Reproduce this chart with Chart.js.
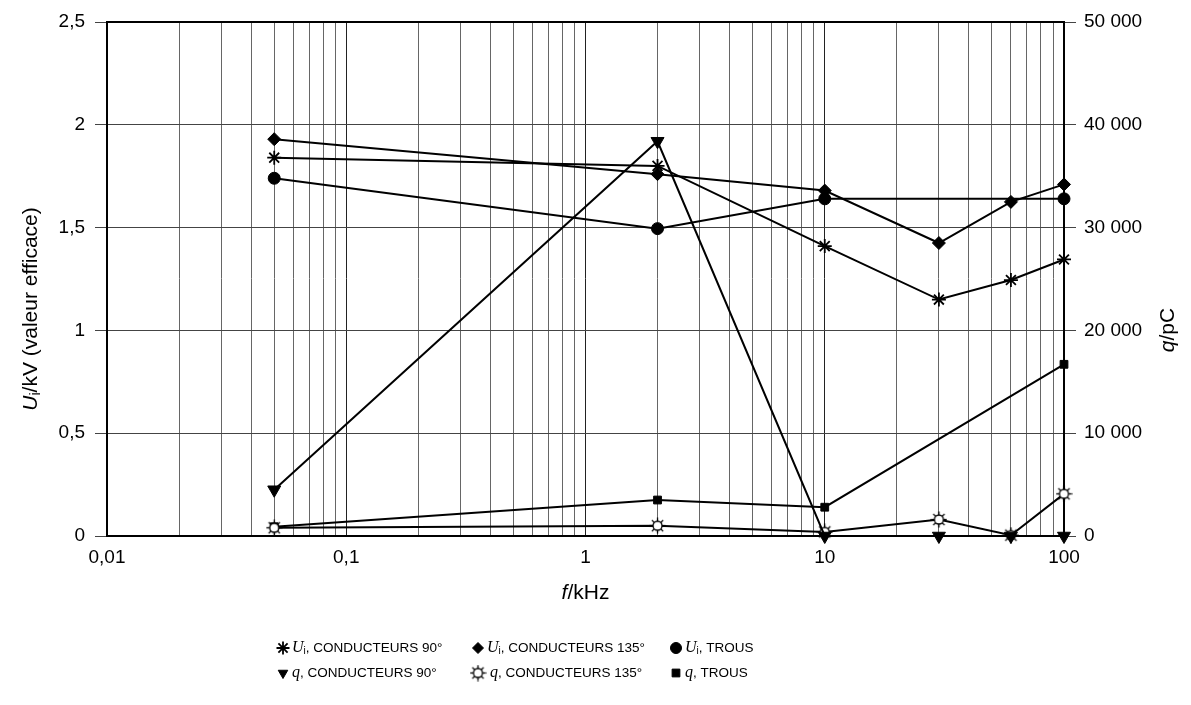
<!DOCTYPE html>
<html>
<head>
<meta charset="utf-8">
<script src="https://cdn.jsdelivr.net/npm/chart.js@4.4.1/dist/chart.umd.min.js"></script>
<style>
  body { margin: 0; background: #fff; }
  #wrap { width: 1191px; height: 705px; }
</style>
</head>
<body>
<div id="wrap"><canvas id="chart" width="1191" height="705"></canvas></div>
<script>
// frequencies (kHz) measured
const freqs = [0.05, 2, 10, 30, 60, 100];

// Ui in kV (left axis)
const uCond90  = [1.84, 1.80, 1.41, 1.15, 1.245, 1.345];
const uCond135 = [1.93, 1.76, 1.68, 1.425, 1.625, 1.71];
const uTrous   = [1.74, 1.495, 1.64, null, null, 1.64];

// q in pC (right axis)
const qCond90  = [4500, 38400, 0, 0, 0, 0];
const qCond135 = [800, 1000, 400, 1600, 80, 4100];
const qTrous   = [900, 3500, 2800, null, null, 16700];

const xDecades = [0.01, 0.1, 1, 10, 100];
const xDecadeLabels = ['0,01', '0,1', '1', '10', '100'];
const uTickLabels = ['0', '0,5', '1', '1,5', '2', '2,5'];
const qTickLabels = ['0', '10 000', '20 000', '30 000', '40 000', '50 000'];

const legendSymbols = ['U', 'U', 'U', 'q', 'q', 'q'];
const legendTexts = [', CONDUCTEURS 90°', ', CONDUCTEURS 135°', ', TROUS',
                     ', CONDUCTEURS 90°', ', CONDUCTEURS 135°', ', TROUS'];

const SANS = "'Liberation Sans', Arial, sans-serif";
const SERIF = "'Liberation Serif', 'Times New Roman', serif";

// open circle with little rays for q, conducteurs 135°
function makeSun(size) {
    const c = document.createElement('canvas');
    c.width = size; c.height = size;
    const g = c.getContext('2d');
    const m = size / 2;
    g.strokeStyle = '#000';
    g.lineWidth = 1.3;
    for (let k = 0; k < 8; k++) {
        const a = k * Math.PI / 4;
        g.beginPath();
        g.moveTo(m + Math.cos(a) * 4, m + Math.sin(a) * 4);
        g.lineTo(m + Math.cos(a) * (m - 0.5), m + Math.sin(a) * (m - 0.5));
        g.stroke();
    }
    g.beginPath();
    g.arc(m, m, 4.5, 0, Math.PI * 2);
    g.fillStyle = '#fff';
    g.fill();
    g.stroke();
    return c;
}
const sun = makeSun(17);

function pts(values) {
    return freqs.map((f, i) => ({ x: f, y: values[i] }));
}

function series(values, axis, style, radius, extra) {
    return Object.assign({
        data: pts(values),
        yAxisID: axis,
        borderColor: '#000',
        backgroundColor: '#000',
        borderWidth: 2,
        pointStyle: style,
        pointRadius: radius,
        pointBorderWidth: 1,
        pointHoverRadius: radius,
        spanGaps: true,
        clip: false,
        tension: 0
    }, extra || {});
}

const datasets = [
    series(uCond90, 'yu', 'star', 7, { pointBorderWidth: 1.8 }),
    series(uCond135, 'yu', 'rectRot', 6.5),
    series(uTrous, 'yu', 'circle', 6),
    series(qCond90, 'yq', 'triangle', 7.5, { pointRotation: 180 }),
    series(qCond135, 'yq', sun, 7),
    series(qTrous, 'yq', 'rect', 5.5)
];

// ticks at 1..9 x 10^n for the log grid
function logTicks() {
    const t = [];
    for (let e = -2; e < 2; e++) {
        for (let m = 1; m < 10; m++) t.push({ value: +(m * Math.pow(10, e)).toPrecision(3) });
    }
    t.push({ value: 100 });
    return t;
}

function isDecade(v) {
    return xDecades.some(d => Math.abs(d - v) < 1e-9);
}

const decorPlugin = {
    id: 'decor',
    beforeDatasetsDraw(chart) {
        const a = chart.chartArea;
        const ctx = chart.ctx;
        ctx.save();
        ctx.strokeStyle = '#000';
        ctx.lineWidth = 2;
        ctx.strokeRect(a.left, a.top, a.right - a.left, a.bottom - a.top);
        ctx.restore();
    },
    afterDraw(chart) {
        const ctx = chart.ctx;
        const a = chart.chartArea;
        ctx.save();
        ctx.fillStyle = '#000';
        ctx.textBaseline = 'middle';

        // left title
        ctx.save();
        ctx.translate(31, 309);
        ctx.rotate(-Math.PI / 2);
        drawMixed(ctx, [
            ['U', 'italic 21px ' + SANS, 0],
            ['i', '14px ' + SANS, 5],
            ['/kV (valeur efficace)', '21px ' + SANS, 0]
        ], 0, 0, 'center');
        ctx.restore();

        // right title
        ctx.save();
        ctx.translate(1168, 330);
        ctx.rotate(-Math.PI / 2);
        drawMixed(ctx, [
            ['q', 'italic 21px ' + SANS, 0],
            ['/pC', '21px ' + SANS, 0]
        ], 0, 0, 'center');
        ctx.restore();

        // x title
        drawMixed(ctx, [
            ['f', 'italic 21px ' + SANS, 0],
            ['/kHz', '21px ' + SANS, 0]
        ], (a.left + a.right) / 2, 593, 'center');

        // legend, two rows of three
        const colSym = [283, 478, 676];
        const rowY = [648, 673];
        const meta = chart.data.datasets;
        for (let i = 0; i < meta.length; i++) {
            const r = Math.floor(i / 3), c = i % 3;
            const ds = meta[i];
            const x = colSym[c], y = rowY[r];
            ctx.strokeStyle = '#000';
            ctx.fillStyle = '#000';
            ctx.lineWidth = ds.pointStyle === 'star' ? 1.8 : 1;
            Chart.helpers.drawPoint(ctx, {
                pointStyle: ds.pointStyle,
                rotation: ds.pointRotation || 0,
                radius: ds.pointStyle === 'star' ? 6.5 : 5.5,
                borderWidth: 1
            }, x, y);
            ctx.fillStyle = '#000';
            const parts = [[legendSymbols[i], 'italic 16px ' + SERIF, 0]];
            if (legendSymbols[i] === 'U') parts.push(['i', '10px ' + SANS, 3]);
            parts.push([legendTexts[i], '13.5px ' + SANS, 0]);
            const gap = ds.pointStyle === sun ? 12 : 9;
            drawMixed(ctx, parts, x + gap, y, 'left');
        }
        ctx.restore();
    }
};

// text runs with different fonts; [text, font, baseline shift]
function drawMixed(ctx, parts, x, y, align) {
    let total = 0;
    parts.forEach(p => { ctx.font = p[1]; total += ctx.measureText(p[0]).width; });
    let cx = align === 'center' ? x - total / 2 : x;
    ctx.textAlign = 'left';
    parts.forEach(p => {
        ctx.font = p[1];
        ctx.fillText(p[0], cx, y + p[2]);
        cx += ctx.measureText(p[0]).width;
    });
}

const ctx = document.getElementById('chart').getContext('2d');
const chart = new Chart(ctx, {
    type: 'line',
    data: { datasets: datasets },
    options: {
        responsive: false,
        animation: false,
        layout: { padding: { top: 22, bottom: 129, left: 0, right: 0 } },
        plugins: {
            legend: { display: false },
            tooltip: { enabled: false }
        },
        scales: {
            x: {
                type: 'logarithmic',
                min: 0.01,
                max: 100,
                afterBuildTicks: scale => { scale.ticks = logTicks(); },
                afterFit: scale => { scale.height = 40; },
                border: { color: '#000', width: 2 },
                grid: {
                    drawTicks: false,
                    color: c => (c.tick && isDecade(c.tick.value)) ? '#222' : '#666',
                    lineWidth: 1
                },
                ticks: {
                    autoSkip: false,
                    maxRotation: 0,
                    padding: 10,
                    color: '#000',
                    font: { family: SANS, size: 19 },
                    callback: v => {
                        const k = xDecades.findIndex(d => Math.abs(d - v) < 1e-9);
                        return k >= 0 ? xDecadeLabels[k] : '';
                    }
                }
            },
            yu: {
                type: 'linear',
                position: 'left',
                min: 0,
                max: 2.5,
                afterFit: scale => { scale.width = 107; },
                border: { color: '#000', width: 2 },
                grid: { color: '#444', lineWidth: 1, tickLength: 12 },
                ticks: {
                    stepSize: 0.5,
                    padding: 10,
                    color: '#000',
                    font: { family: SANS, size: 19 },
                    callback: v => uTickLabels[Math.round(v / 0.5)]
                }
            },
            yq: {
                type: 'linear',
                position: 'right',
                min: 0,
                max: 50000,
                afterFit: scale => { scale.width = 127; },
                border: { color: '#000', width: 2 },
                grid: { drawOnChartArea: false, color: '#444', tickLength: 12 },
                ticks: {
                    stepSize: 10000,
                    padding: 8,
                    color: '#000',
                    font: { family: SANS, size: 19 },
                    callback: v => qTickLabels[Math.round(v / 10000)]
                }
            }
        }
    },
    plugins: [decorPlugin]
});
</script>
</body>
</html>
